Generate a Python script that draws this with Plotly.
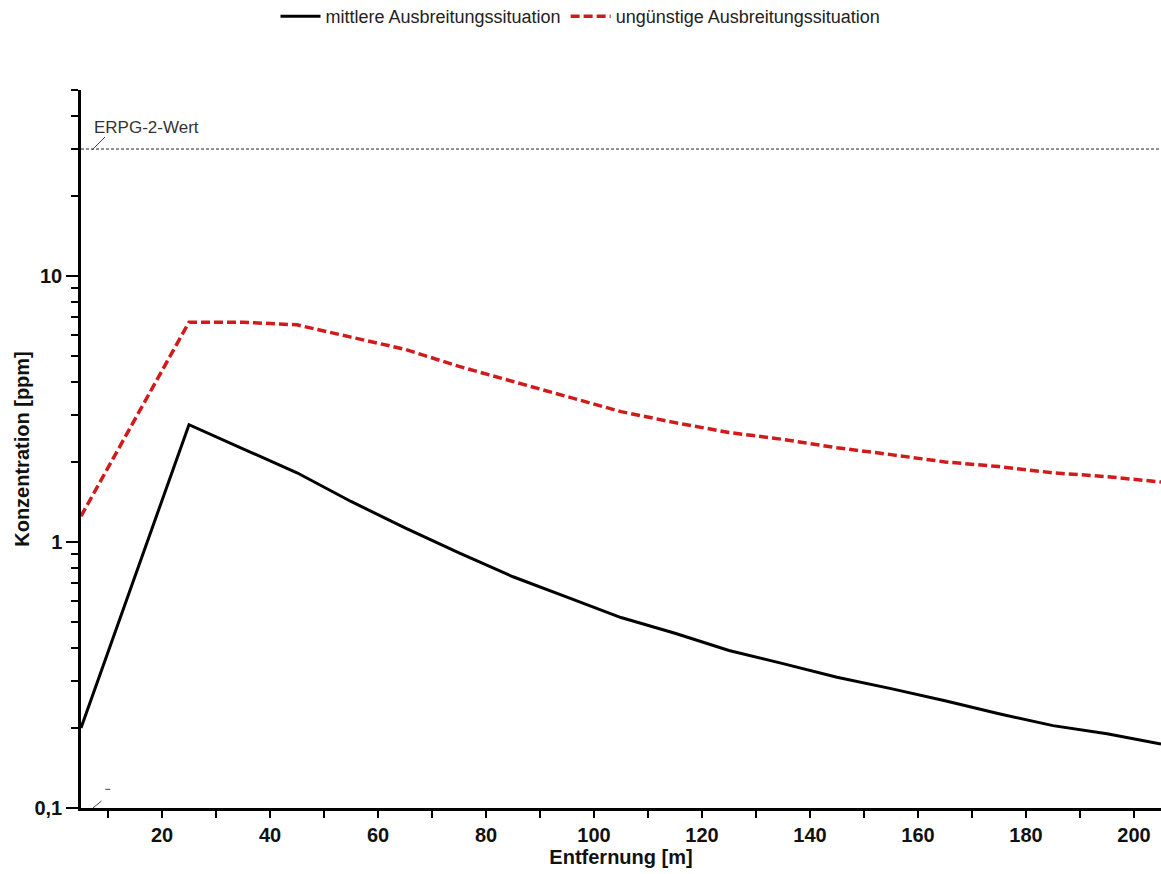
import plotly.graph_objects as go

distance = [5, 25, 35, 45, 55, 65, 75, 85, 95, 105, 115, 125, 135, 145, 155, 165, 175, 185, 195, 205]
mittlere = [0.20, 2.76, 2.24, 1.82, 1.42, 1.13, 0.91, 0.74, 0.62, 0.52, 0.454, 0.391, 0.349, 0.31, 0.281, 0.253, 0.226, 0.204, 0.19, 0.174]
unguenstige = [1.25, 6.7, 6.7, 6.55, 5.89, 5.30, 4.57, 4.02, 3.53, 3.09, 2.81, 2.58, 2.43, 2.26, 2.13, 2.00, 1.92, 1.82, 1.76, 1.68]
erpg_x = [5, 205]
erpg_y = [30, 30]

y_major = [0.1, 1, 10]
y_major_text = ["0,1", "1", "10"]
y_minor = [0.2, 0.3, 0.4, 0.5, 0.6, 0.7, 0.8, 0.9, 2, 3, 4, 5, 6, 7, 8, 9, 20, 30, 40, 50]
x_major = [20, 40, 60, 80, 100, 120, 140, 160, 180, 200]
x_minor = [10, 30, 50, 70, 90, 110, 130, 150, 170, 190]

FONT = "Liberation Sans, Arial, sans-serif"

fig = go.Figure()
fig.add_trace(go.Scatter(x=erpg_x, y=erpg_y, mode="lines", showlegend=False,
                         line=dict(color="#222222", width=1, dash="3px,2px"), hoverinfo="skip"))
fig.add_trace(go.Scatter(x=distance, y=mittlere, mode="lines", name="mittlere Ausbreitungssituation",
                         line=dict(color="#000000", width=3)))
fig.add_trace(go.Scatter(x=distance, y=unguenstige, mode="lines", name="ungünstige Ausbreitungssituation",
                         line=dict(color="#d11a1a", width=3.5, dash="9px,4px")))

fig.update_layout(
    width=1161, height=874,
    margin=dict(l=81, r=0, t=90, b=66),
    paper_bgcolor="white", plot_bgcolor="white",
    font=dict(family=FONT, color="#111111"),
    legend=dict(orientation="h", xref="container", yref="container", x=0.5, y=0.981,
                xanchor="center", yanchor="middle", font=dict(size=18, color="#222222"),
                itemwidth=40, tracegroupgap=0),
    showlegend=True,
)
fig.update_xaxes(
    range=[5, 205], showline=True, linecolor="#000000", linewidth=2.5, showgrid=False, zeroline=False,
    tickmode="array", tickvals=x_major, ticks="outside", ticklen=7, tickwidth=2, tickcolor="#000000",
    tickfont=dict(size=20, family=FONT, color="#111111", weight="bold"),
    minor=dict(tickmode="array", tickvals=x_minor, ticks="outside", ticklen=7, tickwidth=2, tickcolor="#000000"),
    title=dict(text="<b>Entfernung [m]</b>", font=dict(size=20), standoff=4),
)
fig.update_yaxes(
    type="log", range=[-1, 1.699], showline=True, linecolor="#000000", linewidth=2.5, showgrid=False, zeroline=False,
    tickmode="array", tickvals=y_major, ticktext=y_major_text, ticks="outside", ticklen=12, tickwidth=2, tickcolor="#000000",
    tickfont=dict(size=20, family=FONT, color="#111111", weight="bold"),
    minor=dict(tickmode="array", tickvals=y_minor, ticks="outside", ticklen=7, tickwidth=2, tickcolor="#000000"),
    title=dict(text="<b>Konzentration [ppm]</b>", font=dict(size=20), standoff=0),
)

fig.add_annotation(text="ERPG-2-Wert", xref="paper", yref="paper", x=0.0102, y=0.948,
                   xanchor="left", yanchor="middle", showarrow=False,
                   font=dict(size=17, color="#333333"))
fig.add_shape(type="line", xref="paper", yref="paper", x0=0.0102, y0=0.9164, x1=0.0222, y1=0.9345,
              line=dict(color="#444444", width=1))
fig.add_shape(type="line", xref="paper", yref="paper", x0=0.011, y0=0.0, x1=0.019, y1=0.0097,
              line=dict(color="#444444", width=1))
fig.add_shape(type="line", xref="paper", yref="paper", x0=0.0225, y0=0.026, x1=0.027, y1=0.026,
              line=dict(color="#444444", width=1))

fig.write_html("out.html")
